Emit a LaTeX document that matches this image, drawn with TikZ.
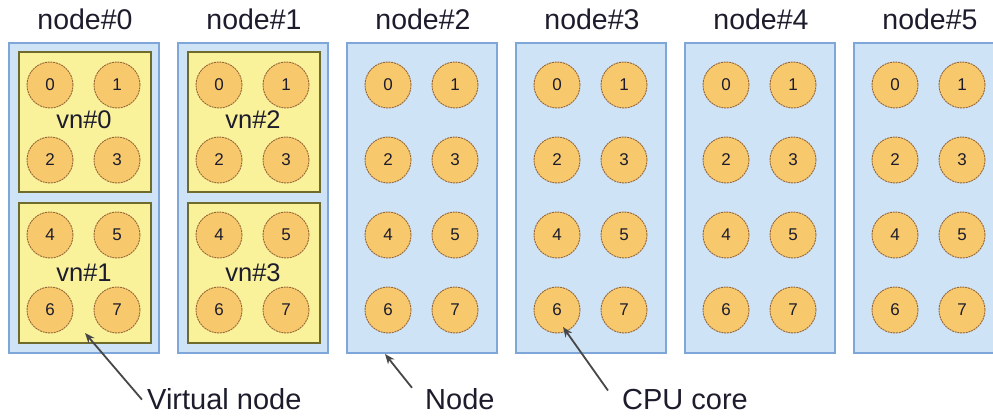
\documentclass[tikz,border=0pt]{standalone}
\usepackage{fontspec}
\setmainfont{Liberation Sans}
\usetikzlibrary{arrows.meta}
\definecolor{nodefill}{HTML}{CFE3F7}
\definecolor{nodeline}{HTML}{7EA6D8}
\definecolor{vnfill}{HTML}{FAF29B}
\definecolor{vnline}{HTML}{6F6B2C}
\definecolor{corefill}{HTML}{F8C96C}
\definecolor{coreline}{HTML}{956535}
\definecolor{arrowc}{HTML}{474747}
\definecolor{textc}{HTML}{1C1C2C}
\begin{document}
\begin{tikzpicture}[x=1pt,y=-1pt,
  nodebox/.style={draw=nodeline, fill=nodefill, line width=1.8pt, minimum width=150pt, minimum height=310pt, inner sep=0pt, anchor=north west},
  vnbox/.style={draw=vnline, fill=vnfill, line width=1.6pt, minimum width=132pt, minimum height=140pt, inner sep=0pt, anchor=north west},
  core/.style={circle, draw=coreline, fill=corefill, line width=0.9pt, dash pattern=on 2pt off 0.8pt, minimum size=46pt, inner sep=0pt, text=textc, font=\fontsize{17}{19}\selectfont},
  title/.style={anchor=base, text=textc, font=\fontsize{28.5}{32}\selectfont},
  vnlabel/.style={anchor=base, text=textc, font=\fontsize{25.5}{28}\selectfont, inner sep=0pt},
  callout/.style={anchor=base west, text=textc, font=\fontsize{29}{32}\selectfont, inner sep=0pt},
  pointer/.style={draw=arrowc, line width=1.8pt, -{Stealth[length=10pt,width=8pt]}}
]
\useasboundingbox (0,0) rectangle (993,417);
\clip (0,0) rectangle (993,417);
% physical nodes
\foreach \i in {0,...,5} {
  \pgfmathsetmacro{\L}{8+169*\i}
  \node[nodebox] (b\i) at (\L,42) {};
  \node[title] (t\i) at (\L+77,30) {node\#\i};
}
% virtual nodes
\node[vnbox] (vn0) at (18,51) {};
\node[vnbox] (vn1) at (18,202) {};
\node[vnbox] (vn2) at (187,51) {};
\node[vnbox] (vn3) at (187,202) {};
\node[vnlabel] (lvn0) at (84,129) {vn\#0};
\node[vnlabel] (lvn1) at (84,281) {vn\#1};
\node[vnlabel] (lvn2) at (253,129) {vn\#2};
\node[vnlabel] (lvn3) at (253,281) {vn\#3};
% cores
\foreach \i in {0,...,5} {
  \pgfmathsetmacro{\L}{8+169*\i}
  \foreach \k/\dx/\y in {0/42/85, 1/109/85, 2/42/160, 3/109/160, 4/42/235, 5/109/235, 6/42/310, 7/109/310} {
    \node[core] (c\i-\k) at (\L+\dx,\y) {\k};
  }
}
% callouts
\node[callout] (lvirt) at (147,409) {Virtual node};
\node[callout] (lnode) at (425,409) {Node};
\node[callout] (lcpu) at (622,409) {CPU core};
\coordinate (avirt) at (85,333);
\coordinate (anode) at (385,354);
\coordinate (acpu) at (563,327);
\draw[pointer] ([xshift=-5pt,yshift=-1pt]lvirt.west) -- (avirt);
\draw[pointer] ([xshift=-13pt]lnode.north west) -- (anode);
\draw[pointer] ([xshift=-14pt,yshift=-2pt]lcpu.north west) -- (acpu);
\end{tikzpicture}
\end{document}
